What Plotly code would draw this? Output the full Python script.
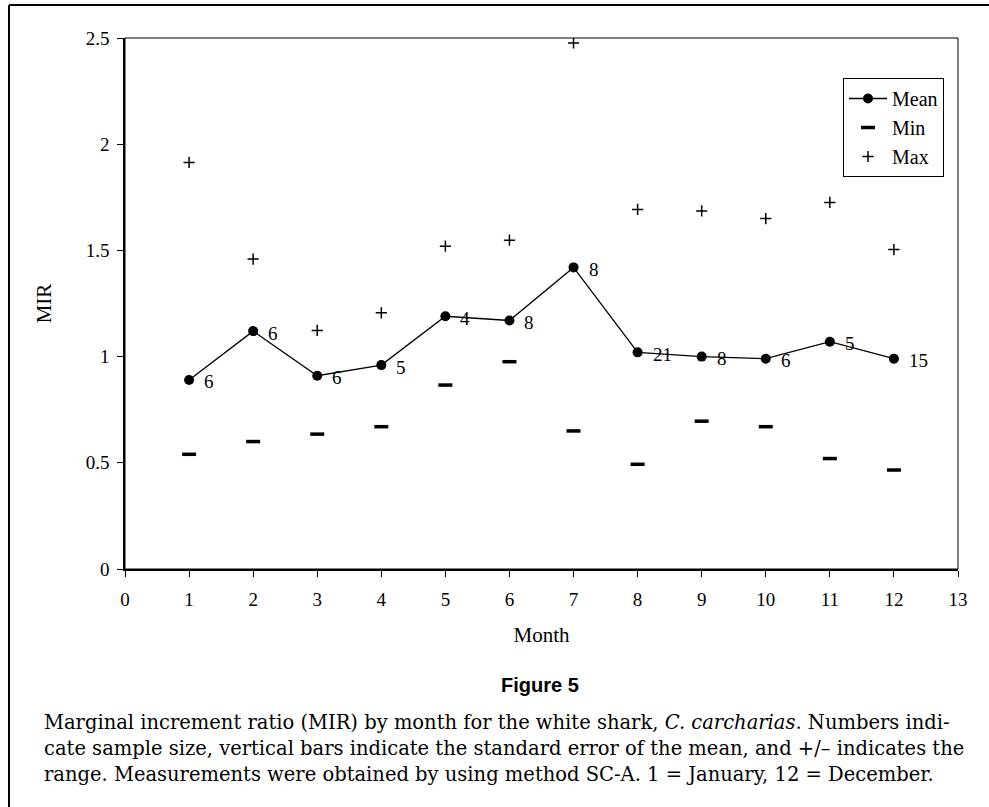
import plotly.graph_objects as go

months = [1, 2, 3, 4, 5, 6, 7, 8, 9, 10, 11, 12]
mean_mir = [0.89, 1.12, 0.91, 0.96, 1.19, 1.17, 1.42, 1.02, 1.00, 0.99, 1.07, 0.99]
min_mir = [0.54, 0.60, 0.635, 0.67, 0.866, 0.976, 0.65, 0.493, 0.696, 0.67, 0.52, 0.466]
max_mir = [1.914, 1.459, 1.123, 1.206, 1.52, 1.548, 2.477, 1.693, 1.686, 1.65, 1.726, 1.504]
sample_n = [6, 6, 6, 5, 4, 8, 8, 21, 8, 6, 5, 15]

caption_title = "Figure 5"
caption_lines = [
    "Marginal increment ratio (MIR) by month for the white shark, <i>C. carcharias</i>. Numbers indi-",
    "cate sample size, vertical bars indicate the standard error of the mean, and +/\u2013 indicates the",
    "range. Measurements were obtained by using method SC-A. 1 = January, 12 = December.",
]

W, H = 989, 807
L, R, T, B = 125, 958, 38, 569  # plot area in pixels
pw, ph = R - L, B - T

def px_x(p):
    return (p - L) / pw

def px_y(p):
    return (B - p) / ph

SERIF = "Liberation Serif"

fig = go.Figure()
fig.add_trace(go.Scatter(
    x=months, y=mean_mir, mode="lines+markers", name="Mean",
    line=dict(color="black", width=1.3),
    marker=dict(symbol="circle", size=10, color="black"),
))
fig.add_trace(go.Scatter(
    x=months, y=min_mir, mode="markers", name="Min",
    marker=dict(symbol="line-ew", size=10, color="black",
                line=dict(color="black", width=3.5)),
))
fig.add_trace(go.Scatter(
    x=months, y=max_mir, mode="markers", name="Max",
    marker=dict(symbol="cross-thin", size=8, color="black",
                line=dict(color="black", width=1.5)),
))

annotations = []
for m, v, n in zip(months, mean_mir, sample_n):
    annotations.append(dict(
        x=m, y=v, xref="x", yref="y", text=str(n), showarrow=False,
        xanchor="left", yanchor="middle", xshift=13, yshift=-2,
        font=dict(family=SERIF, size=19, color="black"),
    ))

annotations.append(dict(
    x=px_x(540), y=px_y(685), xref="paper", yref="paper", text="<b>" + caption_title + "</b>",
    showarrow=False, xanchor="center", yanchor="middle",
    font=dict(family="Liberation Sans", size=20, color="black"),
))
for i, line in enumerate(caption_lines):
    annotations.append(dict(
        x=px_x(42), y=px_y(722 + 26 * i), xref="paper", yref="paper", text=line,
        showarrow=False, xanchor="left", yanchor="middle",
        font=dict(family="DejaVu Serif", size=19.5, color="black"),
    ))

shapes = [
    dict(type="rect", xref="paper", yref="paper", x0=0, x1=1, y0=0, y1=1,
         line=dict(color="black", width=1)),
    dict(type="line", xref="paper", yref="paper", x0=px_x(9), x1=px_x(9),
         y0=px_y(5), y1=px_y(820), line=dict(color="black", width=2)),
    dict(type="line", xref="paper", yref="paper", x0=px_x(9), x1=px_x(1000),
         y0=px_y(5), y1=px_y(5), line=dict(color="black", width=2)),
]

fig.update_layout(
    width=W, height=H,
    margin=dict(l=L, r=W - R, t=T, b=H - B, pad=0),
    paper_bgcolor="white", plot_bgcolor="white",
    font=dict(family=SERIF, size=19, color="black"),
    showlegend=True,
    legend=dict(
        x=px_x(843), y=px_y(78), xanchor="left", yanchor="top",
        bordercolor="black", borderwidth=1, bgcolor="white",
        font=dict(family=SERIF, size=20, color="black"),
        itemwidth=38, tracegroupgap=0,
    ),
    annotations=annotations,
    shapes=shapes,
)
fig.update_xaxes(
    range=[0, 13], dtick=1, tick0=0, showgrid=False, zeroline=False,
    showline=True, linecolor="black", linewidth=2,
    ticks="outside", ticklen=6, tickwidth=1, tickcolor="black",
    tickfont=dict(family=SERIF, size=19), ticklabelstandoff=6,
    title=dict(text="Month", font=dict(family=SERIF, size=21), standoff=19),
)
fig.update_yaxes(
    range=[0, 2.5], dtick=0.5, tick0=0, showgrid=False, zeroline=False,
    showline=True, linecolor="black", linewidth=1.5,
    ticks="outside", ticklen=6, tickwidth=1, tickcolor="black",
    tickfont=dict(family=SERIF, size=19), ticklabelstandoff=4,
    title=dict(text="MIR", font=dict(family=SERIF, size=21), standoff=28),
)

fig.write_html("out.html")
